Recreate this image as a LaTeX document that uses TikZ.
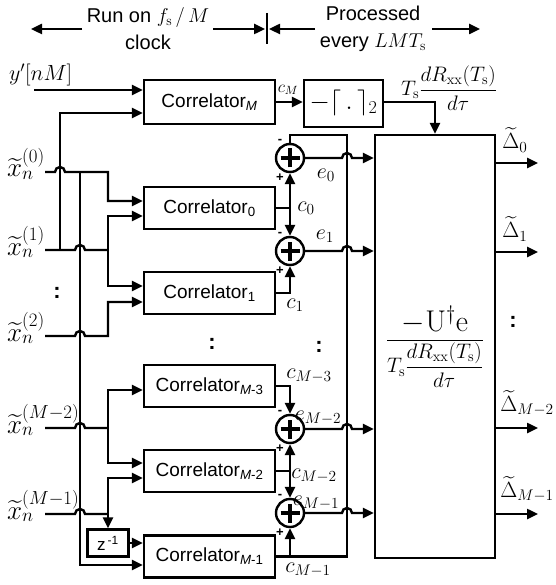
\RequirePackage{fix-cm}
\documentclass[tikz,border=0pt]{standalone}
\usepackage{amsmath}
\usepackage{fontspec}
\setsansfont{Liberation Sans}
\usetikzlibrary{arrows.meta,calc}
\tikzset{
  wire/.style={line width=2.4pt},
  arr/.style={wire,-{Triangle[length=11pt,width=10pt]}},
  corr/.style={draw,line width=2.4pt,minimum width=131pt,minimum height=42pt,inner sep=0pt,
    font=\sffamily\fontsize{19}{22}\selectfont},
  adder/.style={draw,circle,line width=2.4pt,minimum size=28pt,inner sep=0pt,
    path picture={\draw[line width=3.2pt]
      ([xshift=-9.5pt]path picture bounding box.center) -- ([xshift=9.5pt]path picture bounding box.center)
      ([yshift=-9.5pt]path picture bounding box.center) -- ([yshift=9.5pt]path picture bounding box.center);}},
  lab/.style={inner sep=0pt,font=\fontsize{22}{24}\selectfont},
  xlab/.style={inner sep=0pt,anchor=base west,font=\fontsize{27}{29}\selectfont},
  sgn/.style={inner sep=0pt,font=\sffamily\bfseries\fontsize{13}{14}\selectfont},
  dots/.style={inner sep=0pt,font=\sffamily\bfseries\fontsize{22}{24}\selectfont},
  head/.style={inner sep=0pt,align=center,font=\sffamily\fontsize{20}{27}\selectfont},
}
\begin{document}
\begin{tikzpicture}[x=1pt,y=-1pt]
\useasboundingbox (0,0) rectangle (555,585);

% header
\node[head] (h1) at (148,29) {Run on $f_{\mathrm{s}}\,/\,M$\\clock};
\node[head] (h2) at (373,29) {Processed\\every $LMT_{\mathrm{s}}$};
\coordinate (ha) at (82,29); \coordinate (hat) at (31,29);
\coordinate (hb) at (213,29); \coordinate (hbt) at (265,29);
\coordinate (hc) at (315,29); \coordinate (hct) at (269,29);
\coordinate (hd) at (432,29); \coordinate (hdt) at (480,29);
\coordinate (bar1) at (267,13); \coordinate (bar2) at (267,44);
\draw[arr] (ha) -- (hat);
\draw[arr] (hb) -- (hbt);
\draw[arr] (hc) -- (hct);
\draw[arr] (hd) -- (hdt);
\draw[wire] (bar1) -- (bar2);

% correlators
\node[corr,minimum height=44pt] (CM) at (209.5,102) {Correlator\textsubscript{\textit{M}}};
\node[corr] (C0) at (209.5,208) {Correlator\textsubscript{0}};
\node[corr] (C1) at (209.5,293) {Correlator\textsubscript{1}};
\node[corr] (C3) at (209.5,386) {Correlator\textsubscript{\textit{M}-3}};
\node[corr] (C2) at (209.5,471) {Correlator\textsubscript{\textit{M}-2}};
\node[corr] (C4) at (209.5,556.5) {Correlator\textsubscript{\textit{M}-1}};

% quantizer box
\node[draw,line width=2.4pt,minimum width=79pt,minimum height=47pt,inner sep=0pt,
  font=\fontsize{26}{28}\selectfont] (Q) at (343.5,103.5) {$-\lceil\,.\,\rceil_{2}$};

% big box
\node[draw,line width=2.4pt,minimum width=120pt,minimum height=423pt,inner sep=0pt,
  font=\fontsize{21}{25}\selectfont] (B) at (435,346.5)
  {$\dfrac{\text{\fontsize{30}{32}\selectfont$-\mathrm{U}^{\dagger}\mathrm{e}$}}{T_{\mathrm{s}}\dfrac{dR_{\mathrm{xx}}(T_{\mathrm{s}})}{d\tau}}$};

% z^-1
\node[draw,line width=2.4pt,minimum width=41pt,minimum height=27pt,inner sep=0pt,
  font=\sffamily\fontsize{17}{18}\selectfont] (Z) at (108,543) {z\textsuperscript{\,-1}};

% adders
\node[adder] (A0) at (290,158) {};
\node[adder] (A1) at (290,251) {};
\node[adder] (A2) at (290,429) {};
\node[adder] (A3) at (290,513) {};
\foreach \a in {A0,A1,A2,A3}{
  \node[sgn] at ($(\a)+(-10,-17)$) {-};
  \node[sgn] at ($(\a)+(-10,20)$) {+};
}

% input labels
\node[lab,anchor=west] (yl) at (9,75) {$y'[nM]$};
\node[xlab] (xl0) at (7,177) {$\widetilde{x}_n^{(0)}$};
\node[xlab] (xl1) at (7,255) {$\widetilde{x}_n^{(1)}$};
\node[xlab] (xl2) at (7,341) {$\widetilde{x}_n^{(2)}$};
\node[xlab] (xl3) at (7,433) {$\widetilde{x}_n^{(M-2)}$};
\node[xlab] (xl4) at (7,519) {$\widetilde{x}_n^{(M-1)}$};

% input coordinates
\coordinate (Y) at (34,90);
\coordinate (X0) at (45,172);
\coordinate (X1) at (45,250);
\coordinate (X2) at (45,336);
\coordinate (X3) at (45,428);
\coordinate (X4) at (45,514);
\coordinate (cma) at (CM.west |- Y);
\coordinate (cmb) at ($(CM.west)+(0,11)$);
\coordinate (c0a) at ($(C0.west)+(0,-7)$);
\coordinate (c0b) at ($(C0.west)+(0,8)$);
\coordinate (c1a) at ($(C1.west)+(0,-7)$);
\coordinate (c1b) at ($(C1.west)+(0,9)$);
\coordinate (c3a) at ($(C3.west)+(0,4)$);
\coordinate (c2a) at ($(C2.west)+(0,-8)$);
\coordinate (c2b) at ($(C2.west)+(0,7)$);
\coordinate (c4a) at (C4.west |- Z.east);
\coordinate (c4b) at ($(C4.west)+(0,8.5)$);

\draw[arr] (Y) -- (cma);
% x^(0)
\draw[arr] (X0) -- (55,172) arc[start angle=180,end angle=360,radius=5] -- (108,172) |- (c0a);
\draw[arr] (80,172) |- (c4b);
% x^(1)
\draw[wire] (X1) -- (75,250) arc[start angle=180,end angle=360,radius=5] -- (108,250);
\draw[arr] (60,250) |- (cmb);
\draw[arr] (108,250) |- (c0b);
\draw[arr] (108,250) |- (c1a);
% x^(2)
\draw[arr] (X2) -- (75,336) arc[start angle=180,end angle=360,radius=5] -- (108,336) |- (c1b);
% x^(M-2)
\draw[wire] (X3) -- (75,428) arc[start angle=180,end angle=360,radius=5] -- (108,428);
\draw[arr] (108,428) |- (c3a);
\draw[arr] (108,428) |- (c2a);
% x^(M-1)
\draw[wire] (X4) -- (75,514) arc[start angle=180,end angle=360,radius=5] -- (108,514);
\draw[arr] (108,514) |- (c2b);
\draw[arr] (108,514) -- (Z.north);
\draw[arr] (Z.east) -- (c4a);

% correlator M path
\draw[arr] (CM.east) -- (Q.west |- CM.east);
\draw[arr] (Q.east |- CM.east) -| (B.north);

% correlator outputs
\coordinate (J0) at (A0 |- C0.east);
\coordinate (J2) at (A2 |- C2.east);
\coordinate (J4) at (A3 |- C4.east);
\coordinate (R4) at (347,556.5);
\coordinate (R0) at (347,135);
\coordinate (T0) at (290,135);
\draw[wire] (C0.east) -- (J0);
\draw[arr] (J0) -- (A0.south);
\draw[arr] (J0) -- (A1.north);
\draw[arr] (C1.east) -| (A1.south);
\draw[arr] (C3.east) -| (A2.north);
\draw[wire] (C2.east) -- (J2);
\draw[arr] (J2) -- (A2.south);
\draw[arr] (J2) -- (A3.north);
\draw[wire] (C4.east) -- (R4) -- (R0) -- (T0) -- (A0.north);
\draw[arr] (J4) -- (A3.south);

% adder outputs with hops
\draw[arr] (A0.east) -- (342,158) arc[start angle=180,end angle=360,radius=5] -- (B.west |- A0.east);
\draw[arr] (A1.east) -- (342,251) arc[start angle=180,end angle=360,radius=5] -- (B.west |- A1.east);
\draw[arr] (A2.east) -- (342,429) arc[start angle=180,end angle=360,radius=5] -- (B.west |- A2.east);
\draw[arr] (A3.east) -- (342,513) arc[start angle=180,end angle=360,radius=5] -- (B.west |- A3.east);

% outputs
\coordinate (D0) at (538,163);
\coordinate (D1) at (538,252);
\coordinate (D2) at (538,428);
\coordinate (D3) at (538,514);
\draw[arr] (B.east |- D0) -- (D0);
\draw[arr] (B.east |- D1) -- (D1);
\draw[arr] (B.east |- D2) -- (D2);
\draw[arr] (B.east |- D3) -- (D3);

% labels
\node[lab,font=\fontsize{17}{18}\selectfont] (lcm) at (288,90) {$c_{M}$};
\node[lab] (le0) at (326,175) {$e_{0}$};
\node[lab] (lc0) at (306,208) {$c_{0}$};
\node[lab] (le1) at (325,236) {$e_{1}$};
\node[lab] (lc1) at (295,305) {$c_{1}$};
\node[lab] (lc3) at (309,376) {$c_{M-3}$};
\node[lab] (le2) at (318,418) {$e_{M-2}$};
\node[lab] (lc2) at (314,476) {$c_{M-2}$};
\node[lab] (le3) at (316,503) {$e_{M-1}$};
\node[lab] (lc4) at (308,570) {$c_{M-1}$};
\node[lab] (ld0) at (515,140) {$\widetilde{\Delta}_{0}$};
\node[lab] (ld1) at (515,229) {$\widetilde{\Delta}_{1}$};
\node[lab] (ld2) at (527,403) {$\widetilde{\Delta}_{M-2}$};
\node[lab] (ld3) at (527,489) {$\widetilde{\Delta}_{M-1}$};
\node[lab,font=\fontsize{21}{24}\selectfont] (lt) at (449,88)
  {$T_{\mathrm{s}}\dfrac{dR_{\mathrm{xx}}(T_{\mathrm{s}})}{d\tau}$};

% dots
\node[dots] at (57,293) {:};
\node[dots] at (212,344) {:};
\node[dots] at (319,347) {:};
\node[dots] at (513,322) {:};
\end{tikzpicture}
\end{document}
